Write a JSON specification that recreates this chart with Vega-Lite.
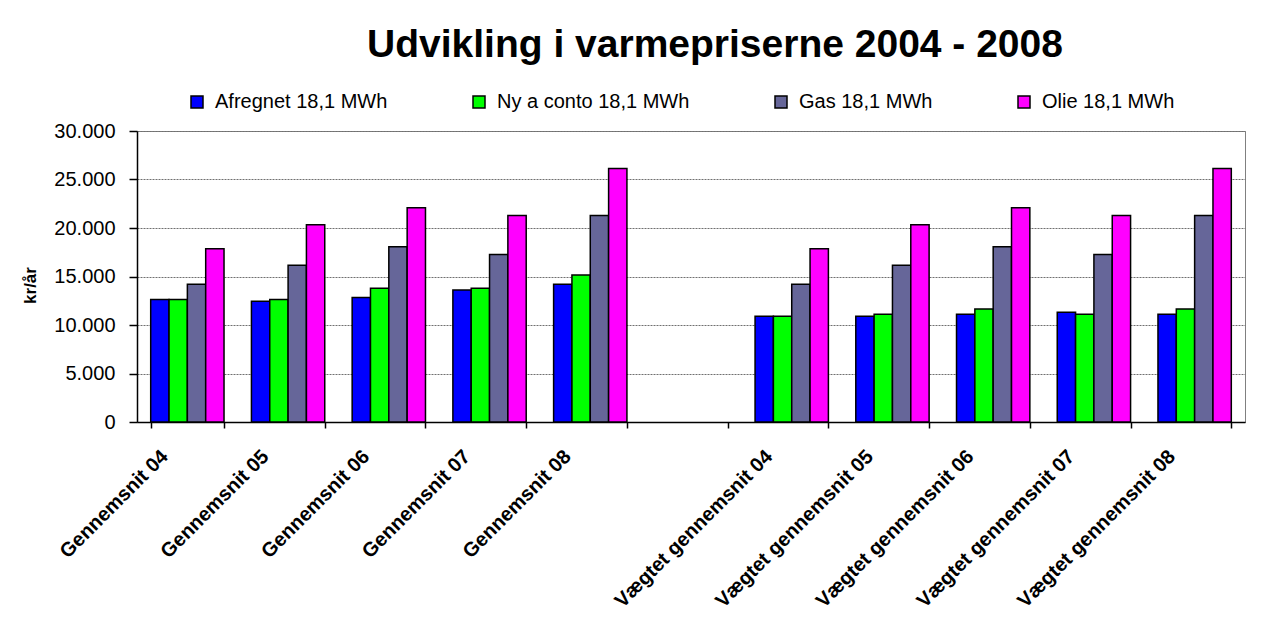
{
  "$schema": "https://vega.github.io/schema/vega-lite/v6.json",
  "width": 1108,
  "height": 291,
  "autosize": {"type": "none"},
  "padding": {"left": 137, "top": 131, "right": 16, "bottom": 199},
  "background": "white",
  "title": {
    "text": "Udvikling i varmepriserne 2004 - 2008",
    "fontSize": 39,
    "fontWeight": "bold",
    "font": "Liberation Sans",
    "color": "black",
    "anchor": "middle",
    "frame": "group",
    "baseline": "alphabetic",
    "offset": -4,
    "dx": 24
  },
  "data": {
    "values": [
      {"gruppe": "Gennemsnit 04", "serie": "Afregnet 18,1 MWh", "kr": 12620},
      {"gruppe": "Gennemsnit 04", "serie": "Ny a conto 18,1 MWh", "kr": 12620},
      {"gruppe": "Gennemsnit 04", "serie": "Gas 18,1 MWh", "kr": 14200},
      {"gruppe": "Gennemsnit 04", "serie": "Olie 18,1 MWh", "kr": 17870},
      {"gruppe": "Gennemsnit 05", "serie": "Afregnet 18,1 MWh", "kr": 12450},
      {"gruppe": "Gennemsnit 05", "serie": "Ny a conto 18,1 MWh", "kr": 12620},
      {"gruppe": "Gennemsnit 05", "serie": "Gas 18,1 MWh", "kr": 16150},
      {"gruppe": "Gennemsnit 05", "serie": "Olie 18,1 MWh", "kr": 20340},
      {"gruppe": "Gennemsnit 06", "serie": "Afregnet 18,1 MWh", "kr": 12830},
      {"gruppe": "Gennemsnit 06", "serie": "Ny a conto 18,1 MWh", "kr": 13790},
      {"gruppe": "Gennemsnit 06", "serie": "Gas 18,1 MWh", "kr": 18070},
      {"gruppe": "Gennemsnit 06", "serie": "Olie 18,1 MWh", "kr": 22090},
      {"gruppe": "Gennemsnit 07", "serie": "Afregnet 18,1 MWh", "kr": 13620},
      {"gruppe": "Gennemsnit 07", "serie": "Ny a conto 18,1 MWh", "kr": 13790},
      {"gruppe": "Gennemsnit 07", "serie": "Gas 18,1 MWh", "kr": 17280},
      {"gruppe": "Gennemsnit 07", "serie": "Olie 18,1 MWh", "kr": 21300},
      {"gruppe": "Gennemsnit 08", "serie": "Afregnet 18,1 MWh", "kr": 14200},
      {"gruppe": "Gennemsnit 08", "serie": "Ny a conto 18,1 MWh", "kr": 15160},
      {"gruppe": "Gennemsnit 08", "serie": "Gas 18,1 MWh", "kr": 21300},
      {"gruppe": "Gennemsnit 08", "serie": "Olie 18,1 MWh", "kr": 26130},
      {"gruppe": "Vægtet gennemsnit 04", "serie": "Afregnet 18,1 MWh", "kr": 10900},
      {"gruppe": "Vægtet gennemsnit 04", "serie": "Ny a conto 18,1 MWh", "kr": 10900},
      {"gruppe": "Vægtet gennemsnit 04", "serie": "Gas 18,1 MWh", "kr": 14200},
      {"gruppe": "Vægtet gennemsnit 04", "serie": "Olie 18,1 MWh", "kr": 17870},
      {"gruppe": "Vægtet gennemsnit 05", "serie": "Afregnet 18,1 MWh", "kr": 10900},
      {"gruppe": "Vægtet gennemsnit 05", "serie": "Ny a conto 18,1 MWh", "kr": 11110},
      {"gruppe": "Vægtet gennemsnit 05", "serie": "Gas 18,1 MWh", "kr": 16150},
      {"gruppe": "Vægtet gennemsnit 05", "serie": "Olie 18,1 MWh", "kr": 20340},
      {"gruppe": "Vægtet gennemsnit 06", "serie": "Afregnet 18,1 MWh", "kr": 11110},
      {"gruppe": "Vægtet gennemsnit 06", "serie": "Ny a conto 18,1 MWh", "kr": 11660},
      {"gruppe": "Vægtet gennemsnit 06", "serie": "Gas 18,1 MWh", "kr": 18070},
      {"gruppe": "Vægtet gennemsnit 06", "serie": "Olie 18,1 MWh", "kr": 22090},
      {"gruppe": "Vægtet gennemsnit 07", "serie": "Afregnet 18,1 MWh", "kr": 11320},
      {"gruppe": "Vægtet gennemsnit 07", "serie": "Ny a conto 18,1 MWh", "kr": 11110},
      {"gruppe": "Vægtet gennemsnit 07", "serie": "Gas 18,1 MWh", "kr": 17280},
      {"gruppe": "Vægtet gennemsnit 07", "serie": "Olie 18,1 MWh", "kr": 21300},
      {"gruppe": "Vægtet gennemsnit 08", "serie": "Afregnet 18,1 MWh", "kr": 11110},
      {"gruppe": "Vægtet gennemsnit 08", "serie": "Ny a conto 18,1 MWh", "kr": 11660},
      {"gruppe": "Vægtet gennemsnit 08", "serie": "Gas 18,1 MWh", "kr": 21300},
      {"gruppe": "Vægtet gennemsnit 08", "serie": "Olie 18,1 MWh", "kr": 26130}
    ]
  },
  "mark": {"type": "bar", "stroke": "black", "strokeWidth": 1.5},
  "encoding": {
    "x": {
      "field": "gruppe",
      "type": "nominal",
      "scale": {
        "domain": ["Gennemsnit 04", "Gennemsnit 05", "Gennemsnit 06", "Gennemsnit 07", "Gennemsnit 08", " ",
                   "Vægtet gennemsnit 04", "Vægtet gennemsnit 05", "Vægtet gennemsnit 06", "Vægtet gennemsnit 07", "Vægtet gennemsnit 08"],
        "paddingInner": 0.272,
        "paddingOuter": 0.136
      },
      "axis": {
        "title": null,
        "labelAngle": -45,
        "labelAlign": "right",
        "labelBaseline": "top",
        "labelFontSize": 20,
        "labelFontWeight": "bold",
        "labelColor": "black",
        "labelOffset": -30,
        "labelPadding": 18,
        "labelLimit": 400,
        "tickBand": "extent",
        "tickSize": 6,
        "tickColor": "black",
        "tickWidth": 1.5,
        "domainColor": "black",
        "domainWidth": 1.5,
        "grid": false
      }
    },
    "xOffset": {
      "field": "serie",
      "type": "nominal",
      "scale": {"domain": ["Afregnet 18,1 MWh", "Ny a conto 18,1 MWh", "Gas 18,1 MWh", "Olie 18,1 MWh"], "paddingInner": 0, "paddingOuter": 0}
    },
    "y": {
      "field": "kr",
      "type": "quantitative",
      "scale": {"domain": [0, 30000], "nice": false},
      "axis": {
        "title": "kr/år",
        "titleFontSize": 17,
        "titleFontWeight": "bold",
        "titleColor": "black",
        "titleX": -107,
        "titleY": 154,
        "titleAngle": -90,
        "titleAlign": "center",
        "titleBaseline": "middle",
        "values": [0, 5000, 10000, 15000, 20000, 25000, 30000],
        "labelExpr": "replace(format(datum.value, ',d'), ',', '.')",
        "labelFontSize": 20,
        "labelColor": "black",
        "labelPadding": 14,
        "tickSize": 8,
        "tickColor": "black",
        "tickWidth": 1.5,
        "domainColor": "black",
        "domainWidth": 1.5,
        "grid": true,
        "gridColor": "#707070",
        "gridDash": [2, 1],
        "gridWidth": 1
      }
    },
    "color": {
      "field": "serie",
      "type": "nominal",
      "scale": {
        "domain": ["Afregnet 18,1 MWh", "Ny a conto 18,1 MWh", "Gas 18,1 MWh", "Olie 18,1 MWh"],
        "range": ["#0000FF", "#00FF00", "#666699", "#FF00FF"]
      },
      "legend": {
        "title": null,
        "orient": "none",
        "legendX": 50,
        "legendY": -39,
        "direction": "horizontal",
        "columns": 4,
        "columnPadding": 81,
        "symbolType": "square",
        "symbolSize": 144,
        "symbolStrokeColor": "black",
        "symbolStrokeWidth": 1.5,
        "symbolOpacity": 1,
        "labelFontSize": 20,
        "labelColor": "black",
        "labelOffset": 8,
        "labelLimit": 400
      }
    }
  },
  "config": {
    "font": "Liberation Sans",
    "view": {"stroke": "#808080", "strokeWidth": 1}
  }
}
